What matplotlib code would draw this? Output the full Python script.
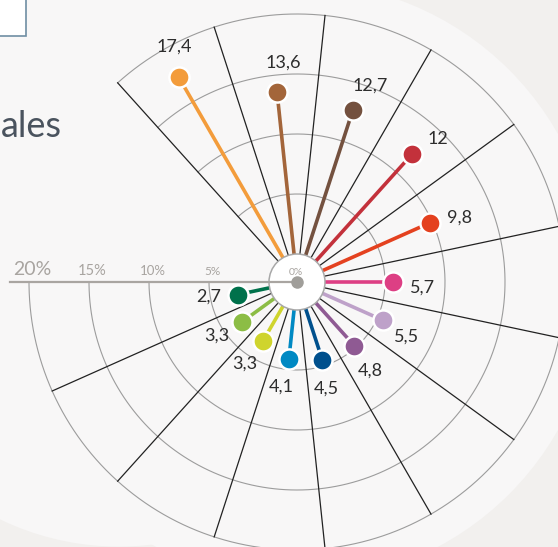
import numpy as np
import matplotlib.pyplot as plt
from matplotlib.patches import Circle, Rectangle

values = [17.4, 13.6, 12.7, 12.0, 9.8, 5.7, 5.5, 4.8, 4.5, 4.1, 3.3, 3.3, 2.7]
labels = ["17,4", "13,6", "12,7", "12", "9,8", "5,7", "5,5", "4,8", "4,5", "4,1", "3,3", "3,3", "2,7"]
colors = ["#f39c3b", "#a3653a", "#74513f", "#c3313b", "#e4411f", "#dd3f84",
          "#bea1c9", "#8f5a93", "#00508d", "#0089c3", "#cfd42d", "#8cbd45", "#00714b"]
ticks = [0, 5, 10, 15, 20]
tick_labels = ["0%", "5%", "10%", "15%", "20%"]
tick_sizes = [7.5, 8.5, 9.5, 10.5, 14]

HOLE = 28 / 12   # inner white hole, in % units
START = 132      # first sector edge (deg)
STEP = 24
RMAX = 20

plt.rcParams['font.family'] = ['Lato', 'DejaVu Sans']


def xy(r, deg):
    t = np.deg2rad(deg)
    return r * np.cos(t), r * np.sin(t)


fig = plt.figure(figsize=(5.58, 5.47), dpi=100, facecolor="#f2f0ee")
ax = fig.add_axes([0, 0, 1, 1])
ax.set_xlim(-297 / 12, 261 / 12)
ax.set_ylim(-265 / 12, 282 / 12)
ax.set_aspect('equal')
ax.axis('off')

# light background blob
bg = "#f8f7f7"
ax.add_patch(Circle((0, 0), 25, color=bg, zorder=0, lw=0))
ax.add_patch(Circle((-14.83, 0.75), 22.8, color=bg, zorder=0, lw=0))
ax.add_patch(Rectangle((-25, 0), 25, 24, color=bg, zorder=0, lw=0))

n = len(values)
end = START - STEP * n

# grid arcs
th = np.linspace(START, end, 400)
for tk in ticks[1:]:
    x, y = xy(HOLE + tk, th)
    ax.plot(x, y, color="#9c9c9c", lw=0.8, zorder=1)

# sector lines
for k in range(n):
    a = START - STEP * k
    x, y = xy(np.array([0, HOLE + RMAX]), a)
    ax.plot(x, y, color="#222222", lw=0.9, zorder=2)

# lollipops
for i, (v, lab, c) in enumerate(zip(values, labels, colors)):
    a = START - STEP * (i + 0.5)
    x, y = xy(np.array([HOLE, HOLE + v]), a)
    ax.plot(x, y, color=c, lw=2.6, solid_capstyle='butt', zorder=4)
    ax.plot(x[1], y[1], 'o', ms=14.5, color=c, mec='white', mew=1.8, zorder=5)
    lx, ly = xy(HOLE + v + 2.4, a - 2.5)
    ax.text(lx, ly, lab, ha='center', va='center', fontsize=13, color="#2d2d2d", zorder=8)

# hole
ax.add_patch(Circle((0, 0), HOLE, facecolor='white', edgecolor="#a8a8a8", lw=1.1, zorder=6))

# radial axis
ax.plot([-(297 - 10) / 12, 0], [0, 0], color="#a9a5a1", lw=1.6, zorder=7)
ax.plot(0, 0, 'o', ms=8, color="#a09e9a", zorder=7)
for tk, tl, fs in zip(ticks, tick_labels, tick_sizes):
    if tk == 0:
        ax.text(-0.1, 0.55, tl, ha='center', va='baseline', fontsize=fs, color="#a8a4a0", zorder=8)
    else:
        ax.text(-(HOLE + tk) + 0.3, 0.55, tl, ha='center', va='baseline', fontsize=fs,
                color="#a8a4a0", zorder=8)

# bits of page around the chart
fig.text(0.002, 1 - 137 / 547, "ales", fontsize=26, color="#4a535e", ha='left', va='baseline')
fig.patches.append(Rectangle((-0.01, 1 - 36 / 547), 0.01 + 26 / 558, 0.08, transform=fig.transFigure,
                             facecolor='white', edgecolor="#6f8ea3", lw=1.2))

plt.savefig("out.png", dpi=100, facecolor=fig.get_facecolor())
plt.close()
